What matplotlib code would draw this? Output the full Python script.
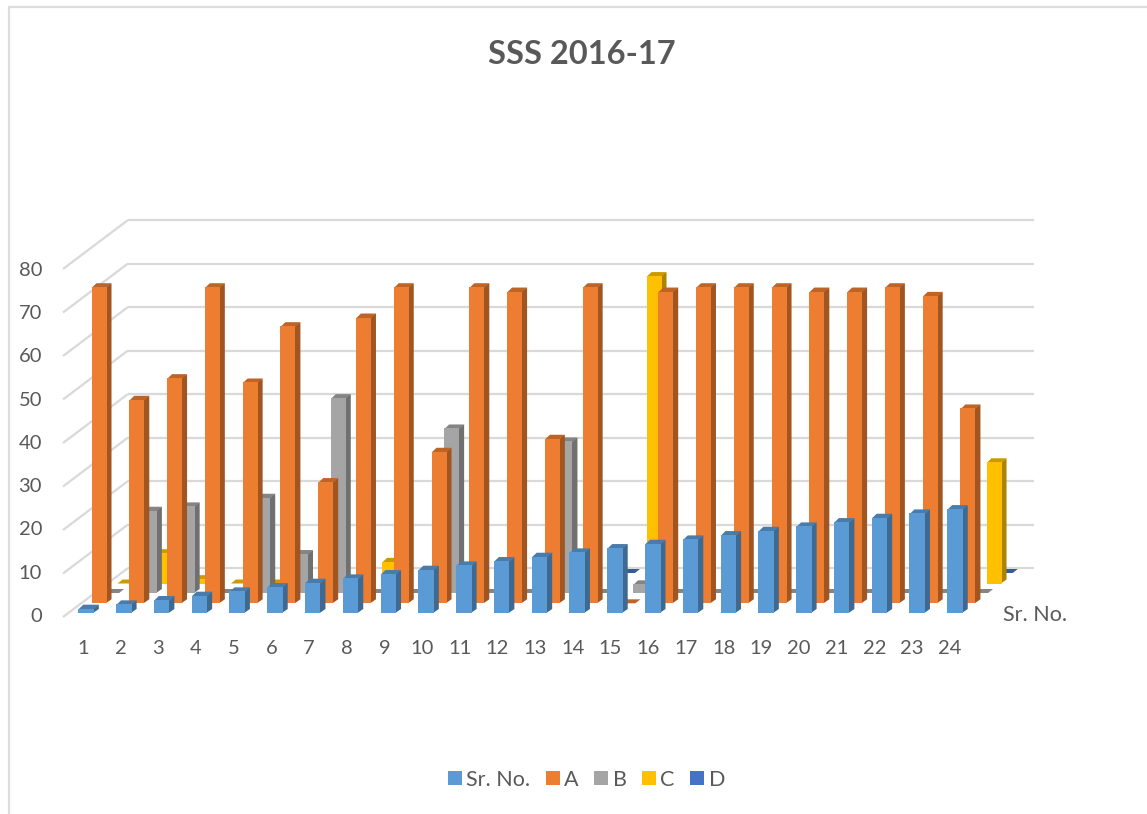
import matplotlib
matplotlib.use("Agg")
import matplotlib.pyplot as plt
import numpy as np
from matplotlib.patches import Patch, Rectangle
from matplotlib.colors import to_rgb

plt.rcParams['font.family'] = ['Lato', 'DejaVu Sans']

categories = list(range(1, 25))
sr_no = [1, 2, 3, 4, 5, 6, 7, 8, 9, 10, 11, 12, 13, 14, 15, 16, 17, 18, 19, 20, 21, 22, 23, 24]
a_vals = [73, 47, 52, 73, 51, 64, 28, 66, 73, 35, 73, 72, 38, 73, 0, 72, 73, 73, 73, 72, 72, 73, 71, 45]
b_vals = [0, 19, 20, 0, 22, 9, 45, 0, 0, 38, 0, 0, 35, 0, 2, 0, 0, 0, 0, 0, 0, 0, 0, 0]
c_vals = [0, 7, 1, 0, 0, np.nan, np.nan, 5, np.nan, np.nan, np.nan, np.nan, np.nan, np.nan, 71,
          np.nan, np.nan, np.nan, np.nan, np.nan, np.nan, np.nan, np.nan, 28]
d_vals = [0] * 24
y_ticks = [0, 10, 20, 30, 40, 50, 60, 70, 80]
series_names = ['Sr. No.', 'A', 'B', 'C', 'D']
colors = ['#5B9BD5', '#ED7D31', '#A5A5A5', '#FFC000', '#4472C4']

W, H = 1147, 814
PX_X = 37.78  # pixels per category
PX_Y = 4.33   # pixels per value unit
X0 = 86.3     # pixel of category 1 centre
Y0 = 613.0    # pixel of value 0

fig = plt.figure(figsize=(W / 100, H / 100), dpi=100, facecolor='white')
ax = fig.add_axes([0, 0, 1, 1])
ax.set_xlim(1 - X0 / PX_X, 1 + (W - X0) / PX_X)
ax.set_ylim(-(H - Y0) / PX_Y, Y0 / PX_Y)
ax.axis('off')


def dx(px):
    return px / PX_X


def dy(px):
    return px / PX_Y


def shade(col, k):
    return tuple(c * k for c in to_rgb(col))


# chart frame
fig.add_artist(Rectangle((8.5 / W, -0.05), 1.2, 1 - 6.5 / H + 0.05, transform=fig.transFigure,
                         fill=False, ec='#DDDDDD', lw=1.6))

# walls
grid_col = '#D9D9D9'
for v in y_ticks:
    back = (Y0 - 568 + v * 4.35) / PX_Y
    front = (Y0 - 617 + v * 4.35) / PX_Y
    ax.plot([1 + dx(128 - X0), 1 + dx(1034 - X0)], [back, back], color=grid_col, lw=1.6, zorder=1,
            solid_capstyle='butt')
    ax.plot([1 + dx(63 - X0), 1 + dx(128 - X0)], [front, back], color=grid_col, lw=1.6, zorder=1,
            solid_capstyle='butt')

# bars, from the back series to the front one
all_vals = [sr_no, a_vals, b_vals, c_vals, d_vals]
off_x = [0, 13.2, 25.8, 39.3, 51.5]
off_y = [0, 9.7, 20, 29.5, 40]
bar_w = [15.5, 15, 15, 15, 14]
DEPTH_X, DEPTH_Y = 5, 4
OVERLAP = 0.8
for s in range(4, -1, -1):
    w = dx(bar_w[s])
    z = 5 - s + 1
    base = dy(off_y[s])
    for c, v in zip(categories, all_vals[s]):
        if np.isnan(v):
            continue
        left = c - dx(8) + dx(off_x[s])
        right = left + w
        top = base + v
        # side and top are laid under the front face so that no seam shows
        ax.fill([right - dx(OVERLAP), right + dx(DEPTH_X), right + dx(DEPTH_X), right - dx(OVERLAP)],
                [base, base + dy(DEPTH_Y), top + dy(DEPTH_Y), top],
                color=shade(colors[s], 0.68), lw=0, zorder=z)
        low = top - dy(OVERLAP) if v > 0 else top
        ax.fill([left, right, right + dx(DEPTH_X), left + dx(DEPTH_X)],
                [low, low, top + dy(DEPTH_Y), top + dy(DEPTH_Y)],
                color=shade(colors[s], 0.8), lw=0, zorder=z)
        ax.bar(left, v, width=w, bottom=base, align='edge', color=colors[s], lw=0, zorder=z)

txt = '#595959'
for v in y_ticks:
    ax.text(1 + dx(42 - X0), v - dy(3.5), str(v), ha='right', va='center', color=txt, fontsize=14.5)
for c in categories:
    ax.text(1 + dx(83 + (c - 1) * 37.68 - X0), -dy(36), str(c), ha='center', va='center', color=txt,
            fontsize=14.5)
ax.text(1 + dx(1035 - X0), -dy(2), 'Sr. No.', ha='center', va='center', color=txt, fontsize=15.5)

fig.text(582 / W, 1 - 54 / H, 'SSS 2016-17', ha='center', va='center', color=txt, fontsize=23.5,
         fontweight='bold')

handles = [Patch(facecolor=col, edgecolor='none', label=n) for col, n in zip(colors, series_names)]
fig.legend(handles=handles, loc='center', bbox_to_anchor=(586.5 / W, 1 - 779.5 / H), ncol=5, frameon=False,
           fontsize=15.5, labelcolor=txt, handlelength=0.65, handleheight=0.65, handletextpad=0.2,
           columnspacing=0.72, borderpad=0)

fig.savefig('out.png', dpi=100, facecolor='white')
